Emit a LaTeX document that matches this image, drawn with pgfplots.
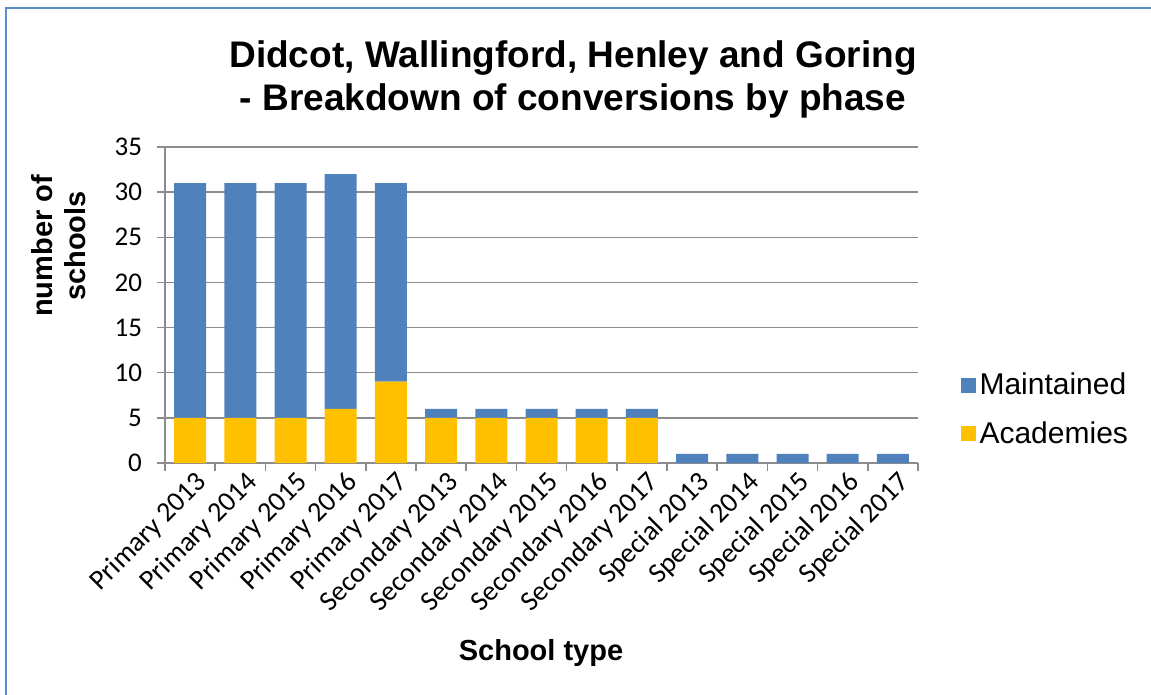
\documentclass[border=0pt]{standalone}
\usepackage{pgfplots}
\pgfplotsset{compat=1.18}
\usepackage{pgfplotstable}
\usepackage{fontspec}
\setmainfont{Liberation Sans}
\newfontfamily\calibri{Carlito}

\definecolor{maintained}{HTML}{4F81BD}
\definecolor{academies}{HTML}{FFC000}
\definecolor{gridgray}{HTML}{8C8C8C}
\definecolor{frameblue}{HTML}{5B8BC8}

\pgfplotstableread{
x acad maint
0  5 26
1  5 26
2  5 26
3  6 26
4  9 22
5  5 1
6  5 1
7  5 1
8  5 1
9  5 1
10 0 1
11 0 1
12 0 1
13 0 1
14 0 1
}\schools

\begin{document}
\begin{tikzpicture}
% page: 1151 x 695 px at 0.5pt per px
\path[use as bounding box] (0pt,0pt) rectangle (575.5pt,-347.5pt);
\draw[frameblue, line width=1pt] (2.75pt,-347.5pt) -- (2.75pt,-4pt) -- (575.5pt,-4pt);

\node[anchor=base, font=\bfseries\fontsize{18.5}{22}\selectfont] at (286.5pt,-34pt) {Didcot, Wallingford, Henley and Goring};
\node[anchor=base, font=\bfseries\fontsize{18.5}{22}\selectfont] at (286.5pt,-55.5pt) {- Breakdown of conversions by phase};

\begin{axis}[
    at={(82.5pt,-231.5pt)}, anchor=south west,
    scale only axis,
    width=376.5pt, height=158pt,
    ybar stacked, bar width=16pt,
    xmin=-0.5, xmax=14.5,
    ymin=0, ymax=35,
    ytick={0,5,...,35},
    xtick={-0.5,0.5,...,14.5},
    x tick label as interval,
    xticklabels={Primary 2013, Primary 2014, Primary 2015, Primary 2016, Primary 2017,
                 Secondary 2013, Secondary 2014, Secondary 2015, Secondary 2016, Secondary 2017,
                 Special 2013, Special 2014, Special 2015, Special 2016, Special 2017},
    xticklabel style={rotate=45, anchor=north east, inner sep=1pt, xshift=3pt,
                      font=\calibri\fontsize{14}{16}\selectfont},
    yticklabel style={xshift=-4pt, font=\calibri\fontsize{13.5}{15}\selectfont},
    /pgf/number format/assume math mode=true,
    axis lines*=left,
    axis line style={gridgray, line width=0.75pt},
    tick align=outside,
    major tick length=4pt,
    tick style={gridgray, line width=0.75pt},
    ymajorgrids,
    grid style={gridgray, line width=0.75pt},
    reverse legend,
    legend style={at={(1.048,0.169)}, anchor=west, draw=none, fill=none,
                  font=\fontsize{15}{17}\selectfont, row sep=8pt,
                  /tikz/every even column/.append style={column sep=2pt}},
    legend cell align=left,
    legend image code/.code={\fill[#1] (0pt,-3.75pt) rectangle (7.5pt,3.75pt);},
]
\addplot[fill=academies, draw=none] table[x=x, y=acad] {\schools};
\addlegendentry{Academies}
\addplot[fill=maintained, draw=none] table[x=x, y=maint] {\schools};
\addlegendentry{Maintained}
\end{axis}

\node[anchor=base, font=\bfseries\fontsize{14.5}{17}\selectfont] at (270.5pt,-330pt) {School type};
\node[rotate=90, anchor=base, font=\bfseries\fontsize{14.5}{17}\selectfont] at (26pt,-123pt) {number of};
\node[rotate=90, anchor=base, font=\bfseries\fontsize{14.5}{17}\selectfont] at (42.5pt,-123pt) {schools};
\end{tikzpicture}
\end{document}
